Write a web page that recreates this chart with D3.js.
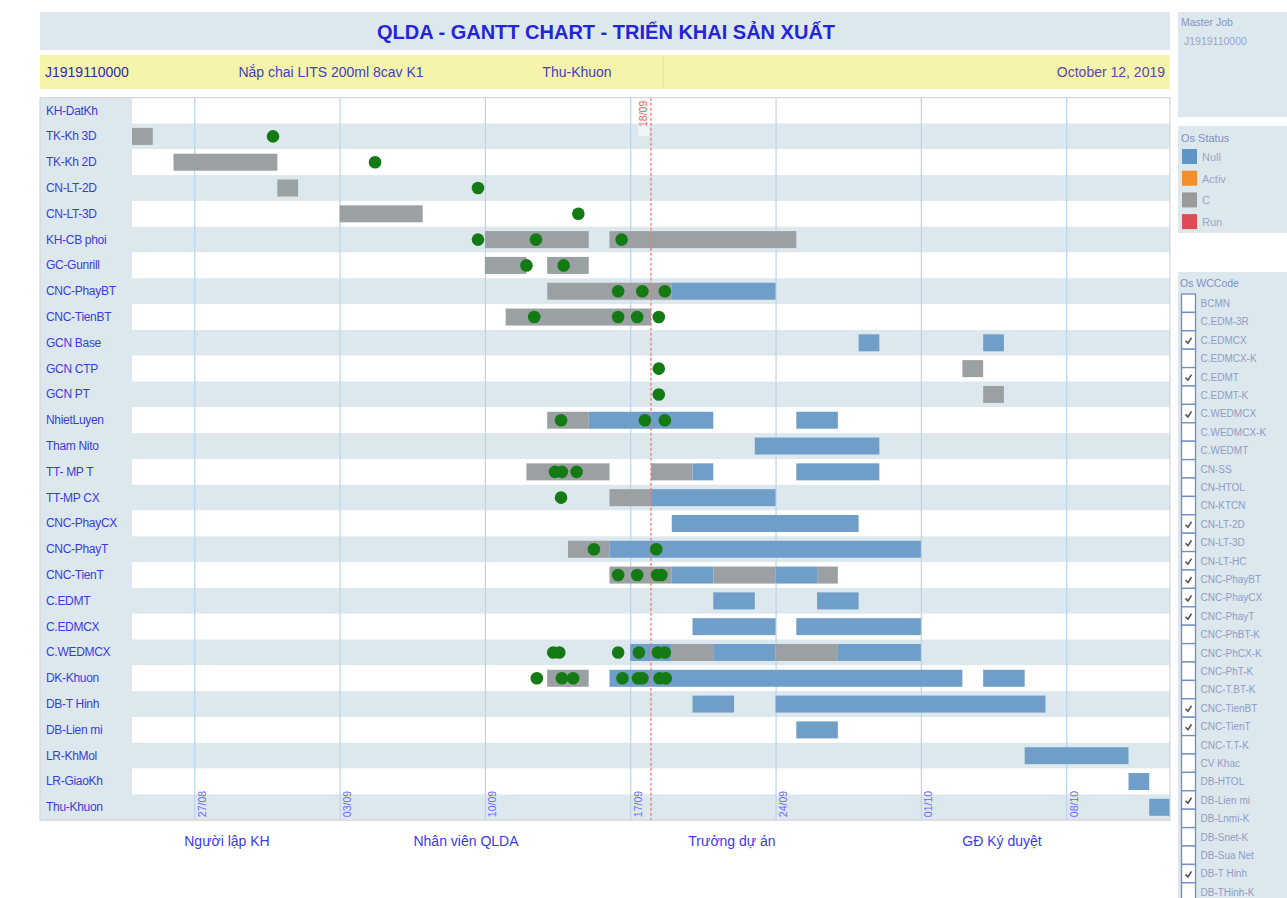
<!DOCTYPE html>
<html><head><meta charset="utf-8">
<script src="https://cdn.jsdelivr.net/npm/d3@7"></script>
<style>
body{margin:0;background:#fff;font-family:"Liberation Sans",Arial,sans-serif;}
svg{display:block}
</style>
</head><body>
<svg id="c" width="1287" height="898"></svg>
<script>
// ---------------- DATA ----------------
const tasks = ["KH-DatKh","TK-Kh 3D","TK-Kh 2D","CN-LT-2D","CN-LT-3D","KH-CB phoi","GC-Gunrill",
  "CNC-PhayBT","CNC-TienBT","GCN Base","GCN CTP","GCN PT","NhietLuyen","Tham Nito","TT- MP T",
  "TT-MP CX","CNC-PhayCX","CNC-PhayT","CNC-TienT","C.EDMT","C.EDMCX","C.WEDMCX","DK-Khuon",
  "DB-T Hinh","DB-Lien mi","LR-KhMol","LR-GiaoKh","Thu-Khuon"];

// [task, start, end, status]
const segments = [
  ["TK-Kh 3D","2019-08-24","2019-08-25","C"],
  ["TK-Kh 2D","2019-08-26","2019-08-31","C"],
  ["CN-LT-2D","2019-08-31","2019-09-01","C"],
  ["CN-LT-3D","2019-09-03","2019-09-07","C"],
  ["KH-CB phoi","2019-09-10","2019-09-15","C"],
  ["KH-CB phoi","2019-09-16","2019-09-25","C"],
  ["GC-Gunrill","2019-09-10","2019-09-12","C"],
  ["GC-Gunrill","2019-09-13","2019-09-15","C"],
  ["CNC-PhayBT","2019-09-13","2019-09-19","C"],
  ["CNC-PhayBT","2019-09-19","2019-09-24","Null"],
  ["CNC-TienBT","2019-09-11","2019-09-18","C"],
  ["GCN Base","2019-09-28","2019-09-29","Null"],
  ["GCN Base","2019-10-04","2019-10-05","Null"],
  ["GCN CTP","2019-10-03","2019-10-04","C"],
  ["GCN PT","2019-10-04","2019-10-05","C"],
  ["NhietLuyen","2019-09-13","2019-09-15","C"],
  ["NhietLuyen","2019-09-15","2019-09-21","Null"],
  ["NhietLuyen","2019-09-25","2019-09-27","Null"],
  ["Tham Nito","2019-09-23","2019-09-29","Null"],
  ["TT- MP T","2019-09-12","2019-09-16","C"],
  ["TT- MP T","2019-09-18","2019-09-20","C"],
  ["TT- MP T","2019-09-20","2019-09-21","Null"],
  ["TT- MP T","2019-09-25","2019-09-29","Null"],
  ["TT-MP CX","2019-09-16","2019-09-18","C"],
  ["TT-MP CX","2019-09-18","2019-09-24","Null"],
  ["CNC-PhayCX","2019-09-19","2019-09-28","Null"],
  ["CNC-PhayT","2019-09-14","2019-09-16","C"],
  ["CNC-PhayT","2019-09-16","2019-10-01","Null"],
  ["CNC-TienT","2019-09-16","2019-09-19","C"],
  ["CNC-TienT","2019-09-19","2019-09-21","Null"],
  ["CNC-TienT","2019-09-21","2019-09-24","C"],
  ["CNC-TienT","2019-09-24","2019-09-26","Null"],
  ["CNC-TienT","2019-09-26","2019-09-27","C"],
  ["C.EDMT","2019-09-21","2019-09-23","Null"],
  ["C.EDMT","2019-09-26","2019-09-28","Null"],
  ["C.EDMCX","2019-09-20","2019-09-24","Null"],
  ["C.EDMCX","2019-09-25","2019-10-01","Null"],
  ["C.WEDMCX","2019-09-17","2019-09-19","Null"],
  ["C.WEDMCX","2019-09-19","2019-09-21","C"],
  ["C.WEDMCX","2019-09-21","2019-09-24","Null"],
  ["C.WEDMCX","2019-09-24","2019-09-27","C"],
  ["C.WEDMCX","2019-09-27","2019-10-01","Null"],
  ["DK-Khuon","2019-09-13","2019-09-15","C"],
  ["DK-Khuon","2019-09-16","2019-10-03","Null"],
  ["DK-Khuon","2019-10-04","2019-10-06","Null"],
  ["DB-T Hinh","2019-09-20","2019-09-22","Null"],
  ["DB-T Hinh","2019-09-24","2019-10-07","Null"],
  ["DB-Lien mi","2019-09-25","2019-09-27","Null"],
  ["LR-KhMol","2019-10-06","2019-10-11","Null"],
  ["LR-GiaoKh","2019-10-11","2019-10-12","Null"],
  ["Thu-Khuon","2019-10-12","2019-10-13","Null"]
];

// [task, date-time] green completion markers
const milestones = [
  ["TK-Kh 3D","2019-08-30 19:00"],
  ["TK-Kh 2D","2019-09-04 17:00"],
  ["CN-LT-2D","2019-09-09 16:00"],
  ["CN-LT-3D","2019-09-14 12:00"],
  ["KH-CB phoi","2019-09-09 16:00"],["KH-CB phoi","2019-09-12 11:00"],["KH-CB phoi","2019-09-16 14:00"],
  ["GC-Gunrill","2019-09-12 00:00"],["GC-Gunrill","2019-09-13 19:00"],
  ["CNC-PhayBT","2019-09-16 10:00"],["CNC-PhayBT","2019-09-17 14:00"],["CNC-PhayBT","2019-09-18 16:00"],
  ["CNC-TienBT","2019-09-12 09:00"],["CNC-TienBT","2019-09-16 10:00"],["CNC-TienBT","2019-09-17 08:00"],["CNC-TienBT","2019-09-18 09:00"],
  ["GCN CTP","2019-09-18 09:00"],
  ["GCN PT","2019-09-18 09:00"],
  ["NhietLuyen","2019-09-13 16:00"],["NhietLuyen","2019-09-17 17:00"],["NhietLuyen","2019-09-18 16:00"],
  ["TT- MP T","2019-09-13 09:00"],["TT- MP T","2019-09-13 17:00"],["TT- MP T","2019-09-14 10:00"],
  ["TT-MP CX","2019-09-13 16:00"],
  ["CNC-PhayT","2019-09-15 06:00"],["CNC-PhayT","2019-09-18 06:00"],
  ["CNC-TienT","2019-09-16 10:00"],["CNC-TienT","2019-09-17 08:00"],["CNC-TienT","2019-09-18 07:00"],["CNC-TienT","2019-09-18 12:00"],
  ["C.WEDMCX","2019-09-13 07:00"],["C.WEDMCX","2019-09-13 14:00"],["C.WEDMCX","2019-09-16 10:00"],
  ["C.WEDMCX","2019-09-17 10:00"],["C.WEDMCX","2019-09-18 08:00"],["C.WEDMCX","2019-09-18 16:00"],
  ["DK-Khuon","2019-09-12 12:00"],["DK-Khuon","2019-09-13 17:00"],["DK-Khuon","2019-09-14 06:00"],
  ["DK-Khuon","2019-09-16 15:00"],["DK-Khuon","2019-09-17 09:00"],["DK-Khuon","2019-09-17 14:00"],
  ["DK-Khuon","2019-09-18 10:00"],["DK-Khuon","2019-09-18 17:00"]
];

const domainDates = ["2019-08-24","2019-10-13"];
const tickDates = ["2019-08-27","2019-09-03","2019-09-10","2019-09-17","2019-09-24","2019-10-01","2019-10-08"];
const tickLabels = ["27/08","03/09","10/09","17/09","24/09","01/10","08/10"];
const todayDate = "2019-09-18";
const todayLabel = "18/09";

const title = "QLDA - GANTT CHART - TRIỂN KHAI SẢN XUẤT";
const headerFields = ["J1919110000","Nắp chai LITS 200ml 8cav K1","Thu-Khuon","October 12, 2019"];
const masterJob = ["Master Job","J1919110000"];

const statusNames = ["Null","Activ","C","Run"];
const statusColors = ["#6f9fc8","#f28e2b","#9ba0a3","#e15759"];
const legendSwatch = ["#5f95c6","#f28e2b","#9a9a9a","#e04a55"];

const wcCodes = ["BCMN","C.EDM-3R","C.EDMCX","C.EDMCX-K","C.EDMT","C.EDMT-K","C.WEDMCX","C.WEDMCX-K",
  "C.WEDMT","CN-SS","CN-HTOL","CN-KTCN","CN-LT-2D","CN-LT-3D","CN-LT-HC","CNC-PhayBT","CNC-PhayCX",
  "CNC-PhayT","CNC-PhBT-K","CNC-PhCX-K","CNC-PhT-K","CNC-T.BT-K","CNC-TienBT","CNC-TienT","CNC-T.T-K",
  "CV Khac","DB-HTOL","DB-Lien mi","DB-Lnmi-K","DB-Snet-K","DB-Sua Net","DB-T Hinh","DB-THinh-K"];
const wcChecked = ["C.EDMCX","C.EDMT","C.WEDMCX","CN-LT-2D","CN-LT-3D","CN-LT-HC","CNC-PhayBT",
  "CNC-PhayCX","CNC-PhayT","CNC-TienBT","CNC-TienT","DB-Lien mi","DB-T Hinh"];

const signers = ["Người lập KH","Nhân viên QLDA","Trưởng dự án","GĐ Ký duyệt"];

// ---------------- LAYOUT ----------------
const svg = d3.select("#c");
const FONT = "'Liberation Sans', Arial, sans-serif";
const L = {left:40, labelW:92, plotR:1170, top:97.7, bottom:820.2};
const plotL = L.left + L.labelW;
const pDay = d3.timeParse("%Y-%m-%d");
const pDT = d3.timeParse("%Y-%m-%d %H:%M");
const parse = s => s.length > 10 ? pDT(s) : pDay(s);
const colorOf = d3.scaleOrdinal().domain(statusNames).range(statusColors);

const x = d3.scaleTime().domain(domainDates.map(parse)).range([plotL, L.plotR]);
const y = d3.scaleBand().domain(tasks).range([L.top, L.bottom]).padding(0);
const barH = 17;

// Title bar
svg.append("rect").attr("x",40).attr("y",12).attr("width",1130).attr("height",38).attr("fill","#dde8ee");
svg.append("text").attr("x",606).attr("y",39).attr("text-anchor","middle")
  .attr("font-family",FONT).attr("font-weight","bold").attr("font-size",20).attr("fill","#2424dc").text(title);

// Header (yellow)
svg.append("rect").attr("x",40).attr("y",55).attr("width",1130).attr("height",34).attr("fill","#f6f4ab");
svg.append("line").attr("x1",663).attr("x2",663).attr("y1",55).attr("y2",89).attr("stroke","#e2dfa0");
const hdr = [
  {x:45, a:"start", c:"#2d2da6"},
  {x:331, a:"middle", c:"#3f3fbf"},
  {x:577, a:"middle", c:"#3f3fbf"},
  {x:1165, a:"end", c:"#5a48aa"}];
headerFields.forEach((t,i)=>{
  svg.append("text").attr("x",hdr[i].x).attr("y",77).attr("text-anchor",hdr[i].a)
    .attr("font-family",FONT).attr("font-size",14).attr("fill",hdr[i].c).text(t);
});

// Plot background: label column + stripes
svg.append("rect").attr("x",L.left).attr("y",L.top).attr("width",L.labelW).attr("height",L.bottom-L.top).attr("fill","#dde8ee");
svg.append("g").selectAll("rect").data(tasks).join("rect")
  .attr("x",plotL).attr("width",L.plotR-plotL)
  .attr("y",d=>y(d)).attr("height",y.bandwidth())
  .attr("fill",(d,i)=> i%2 ? "#dde8ee" : "#ffffff");

// Gridlines + rotated tick labels via axis
const axis = d3.axisBottom(x).tickValues(tickDates.map(parse))
  .tickFormat((d,i)=>tickLabels[i]).tickSizeInner(-(L.bottom-L.top)).tickSizeOuter(0);
const gAxis = svg.append("g").attr("transform",`translate(0,${L.bottom})`).call(axis);
gAxis.select(".domain").remove();
gAxis.selectAll(".tick line").attr("stroke","#b9d5ea").attr("stroke-width",1.2);
gAxis.selectAll(".tick text").attr("transform","rotate(-90)")
  .attr("x",3).attr("y",11).attr("dy",0).attr("text-anchor","start")
  .attr("font-family",FONT).attr("font-size",10.5).attr("fill","#6b6bf2");

// Row labels
svg.append("g").selectAll("text").data(tasks).join("text")
  .attr("x",L.left+6).attr("y",d=>y(d)+y.bandwidth()/2+4)
  .attr("font-family",FONT).attr("font-size",12).attr("fill","#3b3be0").attr("letter-spacing",-0.3)
  .text(d=>d);

// Bars
svg.append("g").selectAll("rect").data(segments).join("rect")
  .attr("x",d=>x(parse(d[1]))).attr("width",d=>x(parse(d[2]))-x(parse(d[1])))
  .attr("y",d=>y(d[0])+(y.bandwidth()-barH)/2).attr("height",barH)
  .attr("fill",d=>colorOf(d[3]));

// Today line
const tx = x(parse(todayDate));
svg.append("line").attr("x1",tx).attr("x2",tx).attr("y1",L.top).attr("y2",L.bottom)
  .attr("stroke","#f07878").attr("stroke-width",1.3).attr("stroke-dasharray","3,2");
svg.append("rect").attr("x",tx-13).attr("y",L.top+2).attr("width",11).attr("height",36)
  .attr("fill","#f3f6f8").attr("opacity",0.9);
svg.append("text").attr("transform",`translate(${tx-4},${L.top+3}) rotate(-90)`)
  .attr("text-anchor","end").attr("font-family",FONT).attr("font-size",10.5).attr("fill","#f06a6a").text(todayLabel);

// Milestones
svg.append("g").selectAll("circle").data(milestones).join("circle")
  .attr("cx",d=>x(parse(d[1]))).attr("cy",d=>y(d[0])+y.bandwidth()/2).attr("r",6.3)
  .attr("fill","#147a14");

// Plot frame
svg.append("rect").attr("x",L.left).attr("y",L.top).attr("width",L.plotR-L.left).attr("height",L.bottom-L.top)
  .attr("fill","none").attr("stroke","#d6d6d6").attr("stroke-width",1.2);

// Signers
const signX = [227,466,732,1002];
signers.forEach((s,i)=>{
  svg.append("text").attr("x",signX[i]).attr("y",846).attr("text-anchor","middle")
    .attr("font-family",FONT).attr("font-size",14).attr("fill","#3a3af0").text(s);
});

// Right panel: Master Job
svg.append("rect").attr("x",1178).attr("y",12).attr("width",109).attr("height",105).attr("fill","#dde8ee");
svg.append("text").attr("x",1181).attr("y",26).attr("font-family",FONT).attr("font-size",10.5).attr("fill","#8494bb").text(masterJob[0]);
svg.append("text").attr("x",1184).attr("y",45).attr("font-family",FONT).attr("font-size",10.5).attr("fill","#98a6c6").text(masterJob[1]);

// Os Status legend
svg.append("rect").attr("x",1178).attr("y",126).attr("width",109).attr("height",107).attr("fill","#dde8ee");
svg.append("text").attr("x",1181).attr("y",142).attr("font-family",FONT).attr("font-size",11).attr("fill","#7d8fbf").text("Os Status");
const lg = svg.append("g").selectAll("g").data(statusNames).join("g")
  .attr("transform",(d,i)=>`translate(1182,${149+i*21.7})`);
lg.append("rect").attr("width",15).attr("height",15).attr("fill",(d,i)=>legendSwatch[i]);
lg.append("text").attr("x",20).attr("y",12).attr("font-family",FONT).attr("font-size",11).attr("fill","#9aa6c8").text(d=>d);

// Os WCCode filter
svg.append("rect").attr("x",1178).attr("y",272).attr("width",109).attr("height",626).attr("fill","#dde8ee");
svg.append("text").attr("x",1180).attr("y",287).attr("font-family",FONT).attr("font-size",10.5).attr("fill","#7d8fbf").text("Os WCCode");
const wcStep = 18.4;
const wc = svg.append("g").selectAll("g").data(wcCodes).join("g")
  .attr("transform",(d,i)=>`translate(1181.5,${294+i*wcStep})`);
wc.append("rect").attr("width",14).attr("height",wcStep).attr("fill","#ffffff").attr("stroke","#6f8fc2").attr("stroke-width",1.3);
wc.filter(d=>wcChecked.includes(d)).append("path")
  .attr("d","M4,10 L6.5,12.5 L10,7").attr("fill","none").attr("stroke","#555").attr("stroke-width",1.6);
wc.append("text").attr("x",19).attr("y",13).attr("font-family",FONT).attr("font-size",10).attr("fill","#8f9cc4").text(d=>d);
</script>
</body></html>
